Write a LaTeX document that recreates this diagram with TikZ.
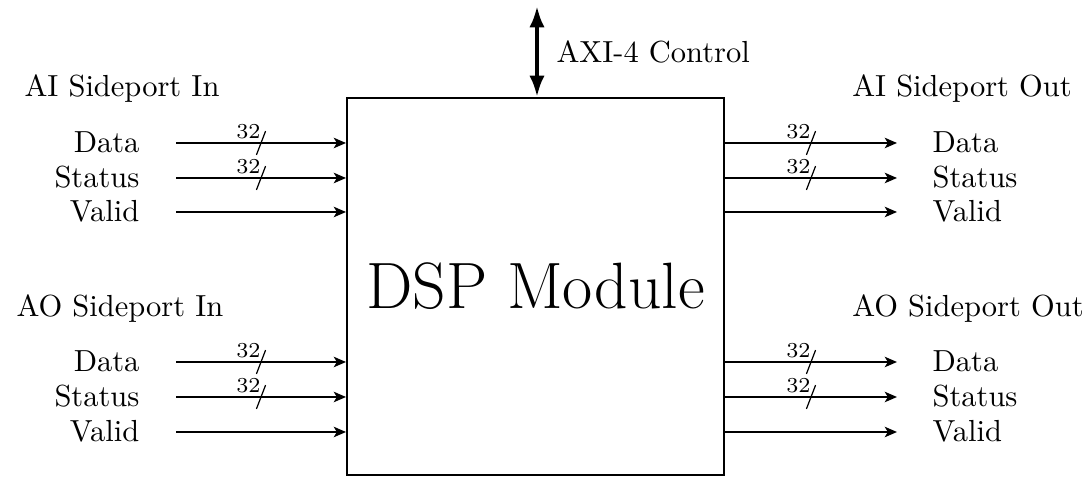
\documentclass[tikz,border=0pt]{standalone}
\usetikzlibrary{arrows.meta,positioning}
\tikzset{
  sig/.style={draw, line width=0.7pt, -{Stealth[length=4pt,width=3.4pt,inset=1pt]}},
  pins/.style={inner sep=0pt, anchor=base east},
  pouts/.style={inner sep=0pt, anchor=base west},
  grp/.style={inner sep=0pt, anchor=base},
  pics/buscut/.style={code={
    \draw[-, line width=0.4pt] (-1.5pt,-3.9pt) -- (1.5pt,3.9pt);
    \node[anchor=base east, inner sep=0pt, font=\scriptsize] at (0.2pt,1.6pt) {#1};
  }}
}
\begin{document}
\begin{tikzpicture}[x=0.328pt, y=-0.328pt]
\useasboundingbox (0,0) rectangle (1089,477);
% the block
\node[draw, line width=0.7pt, minimum size=123.6pt, inner sep=0pt,
      font=\fontsize{21.5}{26}\selectfont] (dsp) at (535.5,286.5) {DSP Module};
% control bus
\coordinate (axitop) at (537,6);
\draw[line width=1.3pt, {Latex[length=7pt,width=5pt]}-{Latex[length=7pt,width=5pt]}]
  (axitop) -- (axitop |- dsp.north);
\node[anchor=west, inner sep=0pt] (axi) at (556,52) {AXI-4 Control};

% AI sideport in
\node[grp] (aiin) at (122,97) {AI Sideport In};
\node[pins] (aiind) at (140,153) {Data};
\node[pins] (aiins) at (140,188) {Status};
\node[pins] (aiinv) at (140,222) {Valid};
% AO sideport in
\node[grp] (aoin) at (120,317) {AO Sideport In};
\node[pins] (aoind) at (140,372) {Data};
\node[pins] (aoins) at (140,407) {Status};
\node[pins] (aoinv) at (140,442) {Valid};

\foreach \p/\y/\w in {aiind/143/1,aiins/178/1,aiinv/212/0,aoind/362/1,aoins/397/1,aoinv/432/0}{
  \coordinate (\p s) at (176,\y);
  \ifnum\w=1
    \draw[sig] (\p s) -- (dsp.west |- \p s) pic[pos=0.5]{buscut=32};
  \else
    \draw[sig] (\p s) -- (dsp.west |- \p s);
  \fi
}

% AI sideport out
\node[grp] (aiout) at (962,97) {AI Sideport Out};
\node[pouts] (aioutd) at (932,153) {Data};
\node[pouts] (aiouts) at (932,188) {Status};
\node[pouts] (aioutv) at (932,222) {Valid};
% AO sideport out
\node[grp] (aoout) at (968,317) {AO Sideport Out};
\node[pouts] (aooutd) at (932,372) {Data};
\node[pouts] (aoouts) at (932,407) {Status};
\node[pouts] (aooutv) at (932,442) {Valid};

\foreach \p/\y/\w in {aioutd/143/1,aiouts/178/1,aioutv/212/0,aooutd/362/1,aoouts/397/1,aooutv/432/0}{
  \coordinate (\p e) at (897,\y);
  \ifnum\w=1
    \draw[sig] (dsp.east |- \p e) -- (\p e) pic[pos=0.5]{buscut=32};
  \else
    \draw[sig] (dsp.east |- \p e) -- (\p e);
  \fi
}
\end{tikzpicture}
\end{document}
